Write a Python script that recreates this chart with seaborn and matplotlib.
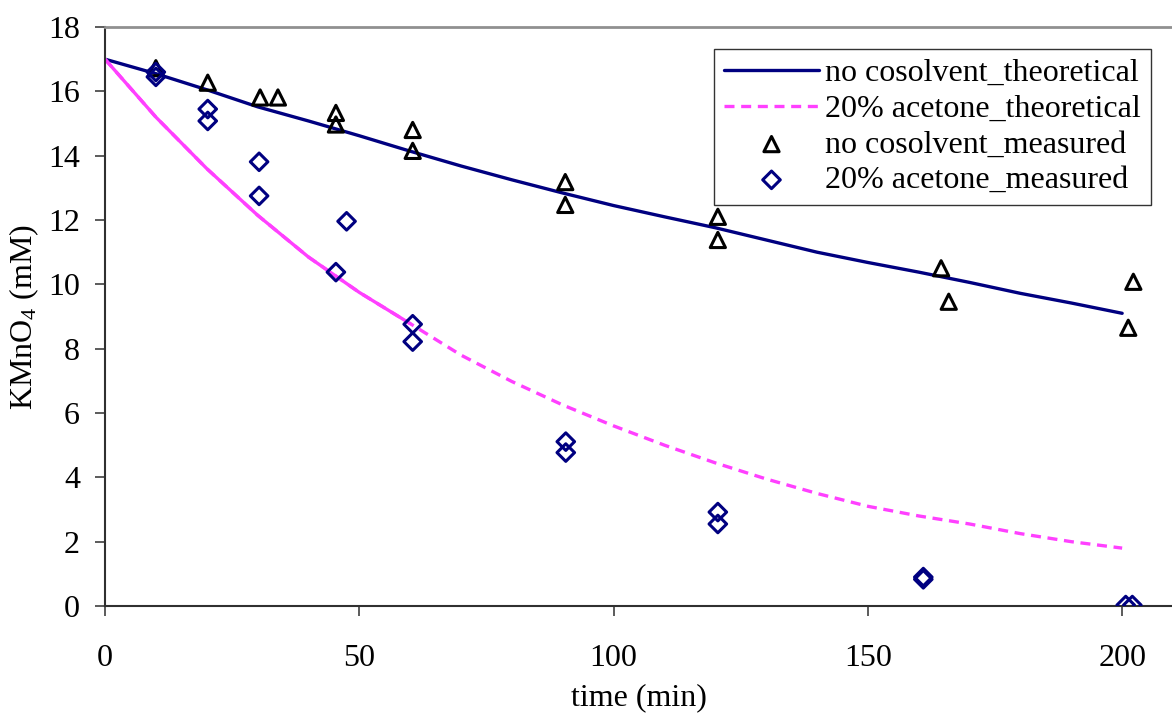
import numpy as np
import pandas as pd
import matplotlib
matplotlib.use("Agg")
import matplotlib.pyplot as plt
import seaborn as sns

# theoretical curves
t_theory = [0, 10, 20, 30, 40, 50, 60, 70, 80, 90, 100, 110, 120, 130, 140, 150, 160, 170, 180, 190, 200]
no_cos_theory = [17.0, 16.55, 16.05, 15.52, 15.08, 14.62, 14.14, 13.68, 13.25, 12.84, 12.45,
                 12.10, 11.76, 11.38, 11.00, 10.68, 10.38, 10.06, 9.72, 9.42, 9.10]
acetone_theory = [17.0, 15.2, 13.6, 12.15, 10.85, 9.75, 8.78, 7.8, 6.98, 6.25, 5.6,
                  5.0, 4.45, 3.95, 3.5, 3.1, 2.8, 2.55, 2.25, 2.0, 1.8]

# measured points
t_no_cos = [10, 20.2, 30.5, 34, 45.4, 45.4, 60.5, 60.5, 90.5, 90.5, 120.5, 120.5, 164.4, 165.9, 202.2, 201.2]
no_cos_meas = [16.72, 16.27, 15.81, 15.81, 15.33, 14.97, 14.8, 14.15, 13.18, 12.47, 12.1, 11.38, 10.5, 9.46, 10.08, 8.65]

t_acetone = [10, 10, 20.2, 20.2, 30.3, 30.3, 47.5, 45.4, 60.5, 60.5, 90.6, 90.6, 120.5, 120.5, 160.9, 160.9, 200.7, 202]
acetone_meas = [16.6, 16.45, 15.45, 15.08, 13.81, 12.75, 11.96, 10.38, 8.76, 8.22, 5.11, 4.77, 2.92, 2.55, 0.9, 0.83, 0.03, 0.03]

x_ticks = [0, 50, 100, 150, 200]
y_ticks = [0, 2, 4, 6, 8, 10, 12, 14, 16, 18]

labels = ["no cosolvent_theoretical", "20% acetone_theoretical",
          "no cosolvent_measured", "20% acetone_measured"]

sns.set_style("white")
plt.rcParams["font.family"] = ["Liberation Serif", "DejaVu Serif"]
plt.rcParams["mathtext.fontset"] = "custom"
plt.rcParams["mathtext.rm"] = "Liberation Serif"
plt.rcParams["mathtext.it"] = "Liberation Serif:italic"
plt.rcParams["text.color"] = "black"
plt.rcParams["axes.labelcolor"] = "black"
plt.rcParams["xtick.color"] = "black"
plt.rcParams["ytick.color"] = "black"

NAVY = "#000080"
PINK = "#FF40FF"
FS = 23

fig = plt.figure(figsize=(11.72, 7.17), dpi=100)
ax = fig.add_axes([0.0896, 0.1548, 1.0 - 0.0896, 0.9623 - 0.1548])

df_th = pd.DataFrame({"t": t_theory, "a": no_cos_theory, "b": acetone_theory})
df_nc = pd.DataFrame({"t": t_no_cos, "y": no_cos_meas})
df_ac = pd.DataFrame({"t": t_acetone, "y": acetone_meas})

sns.lineplot(data=df_th, x="t", y="a", ax=ax, color=NAVY, lw=2.4, label=labels[0])
sns.lineplot(data=df_th, x="t", y="b", ax=ax, color=PINK, lw=2.4, label=labels[1],
             linestyle=(0, (3, 2)))
# dense early part of the curve renders as solid in the original
early = df_th[df_th["t"] <= 60]
sns.lineplot(data=early, x="t", y="b", ax=ax, color=PINK, lw=2.4, legend=False)

sns.scatterplot(data=df_nc, x="t", y="y", ax=ax, marker="^", s=120,
                facecolor="none", edgecolor="black", linewidth=2.2, label=labels[2], zorder=5)
sns.scatterplot(data=df_ac, x="t", y="y", ax=ax, marker="D", s=80,
                facecolor="none", edgecolor=NAVY, linewidth=2.2, label=labels[3], zorder=5)

ax.set_xlim(0, 209.8)
ax.set_ylim(0, 18)
ax.set_xticks(x_ticks)
ax.set_yticks(y_ticks)
ax.tick_params(axis="both", direction="out", length=7, width=1.2, color="#404040",
               labelcolor="black", labelsize=FS, bottom=True, left=True)
ax.tick_params(axis="x", pad=20)
ax.tick_params(axis="y", pad=11)

for s in ["left", "bottom"]:
    ax.spines[s].set_color("#303030")
    ax.spines[s].set_linewidth(1.5)
ax.spines["top"].set_color("#909090")
ax.spines["top"].set_linewidth(2)
ax.spines["right"].set_visible(False)

ax.set_xlabel("time (min)", fontsize=FS, labelpad=8, color="black")
ax.set_ylabel("KMnO$_4$ (mM)", fontsize=FS, labelpad=5, color="black")

leg = ax.legend(loc="upper right", bbox_to_anchor=(0.980, 0.962), borderaxespad=0,
                fontsize=FS, frameon=True, fancybox=False, edgecolor="black",
                handlelength=2.97, handletextpad=0.2, labelspacing=0.2,
                borderpad=0.3)
leg.get_frame().set_linewidth(1.0)
for txt in leg.get_texts():
    txt.set_color("black")

fig.savefig("out.png", dpi=100)
